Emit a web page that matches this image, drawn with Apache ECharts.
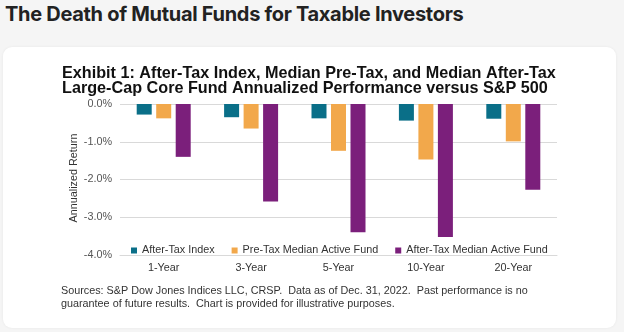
<!DOCTYPE html>
<html>
<head>
<meta charset="utf-8">
<script src="https://cdn.jsdelivr.net/npm/echarts@6/dist/echarts.min.js"></script>
<style>
  html, body { margin: 0; padding: 0; width: 624px; height: 332px; background: #f5f5f5; overflow: hidden; }
  #pagetitle { position: absolute; left: 5px; top: 0px; margin: 0; font-family: Inter, "Noto Sans", sans-serif; font-weight: 700; font-size: 20px; letter-spacing: -0.3px; line-height: 28px; color: #222; white-space: nowrap; }
  #card { position: absolute; left: 3px; top: 47px; width: 613px; height: 281px; background: #fff; border-radius: 9px; box-shadow: 0 0 3px rgba(0,0,0,0.06); }
  #chart { position: absolute; left: 0; top: 0; width: 624px; height: 332px; }
</style>
</head>
<body>
<h1 id="pagetitle">The Death of Mutual Funds for Taxable Investors</h1>
<div id="card"></div>
<div id="chart"></div>
<script>
const categories = ['1-Year', '3-Year', '5-Year', '10-Year', '20-Year'];
const afterTaxIndex = [-0.28, -0.35, -0.38, -0.44, -0.39];
const preTaxMedianActive = [-0.38, -0.65, -1.24, -1.47, -0.99];
const afterTaxMedianActive = [-1.40, -2.58, -3.40, -3.52, -2.27];
const seriesNames = ['After-Tax Index', 'Pre-Tax Median Active Fund', 'After-Tax Median Active Fund'];
const yTicks = [0, -1, -2, -3, -4];
const yAxisName = 'Annualized Return';

const chartTitle = 'Exhibit 1: After-Tax Index, Median Pre-Tax, and Median After-Tax\nLarge-Cap Core Fund Annualized Performance versus S&P 500';
const sourcesText = 'Sources: S&P Dow Jones Indices LLC, CRSP.  Data as of Dec. 31, 2022.  Past performance is no\nguarantee of future results.  Chart is provided for illustrative purposes.';

const colors = ['#0a6f88', '#f2a84b', '#7b1f7b'];
const font = '"Liberation Sans", Arial, sans-serif';
const fs = 10.8;

const chart = echarts.init(document.getElementById('chart'), null, { renderer: 'canvas' });
const mk = (name, data, i) => ({
  name, type: 'bar', data, barWidth: 15, barGap: '30%',
  itemStyle: { color: colors[i] }
});
chart.setOption({
  backgroundColor: 'transparent',
  animation: false,
  color: colors,
  title: {
    text: chartTitle, left: 57, top: 61,
    textStyle: { fontFamily: font, fontWeight: 'bold', fontSize: 16.2, lineHeight: 14.8, color: '#111' }
  },
  legend: {
    left: 126, top: 240, itemWidth: 6, itemHeight: 6, itemGap: 17, icon: 'rect',
    textStyle: { fontFamily: font, fontSize: fs, color: '#333' },
    data: seriesNames
  },
  grid: { left: 120, right: 67, top: 104, bottom: 77 },
  xAxis: {
    type: 'category', data: categories, position: 'bottom',
    axisLine: { onZero: false, lineStyle: { color: '#d9d9d9' } },
    axisTick: { show: false },
    axisLabel: { fontFamily: font, fontSize: fs, color: '#333', margin: 8 }
  },
  yAxis: {
    type: 'value', min: -4, max: 0, interval: 1,
    axisLine: { show: false }, axisTick: { show: false },
    axisLabel: { fontFamily: font, fontSize: fs, color: '#555', margin: 8, formatter: v => v.toFixed(1) + '%' },
    splitLine: { lineStyle: { color: '#d9d9d9' } }
  },
  graphic: [{
    type: 'text', left: 61, top: 285,
    style: { text: sourcesText, fontFamily: font, fontSize: fs, lineHeight: 12.5, fill: '#333' }
  }, {
    type: 'text', x: 74, y: 178, rotation: Math.PI / 2,
    style: { text: yAxisName, fontFamily: font, fontSize: fs, fill: '#333', align: 'center', verticalAlign: 'middle' }
  }],
  series: [
    mk(seriesNames[0], afterTaxIndex, 0),
    mk(seriesNames[1], preTaxMedianActive, 1),
    mk(seriesNames[2], afterTaxMedianActive, 2)
  ]
});
</script>
</body>
</html>
